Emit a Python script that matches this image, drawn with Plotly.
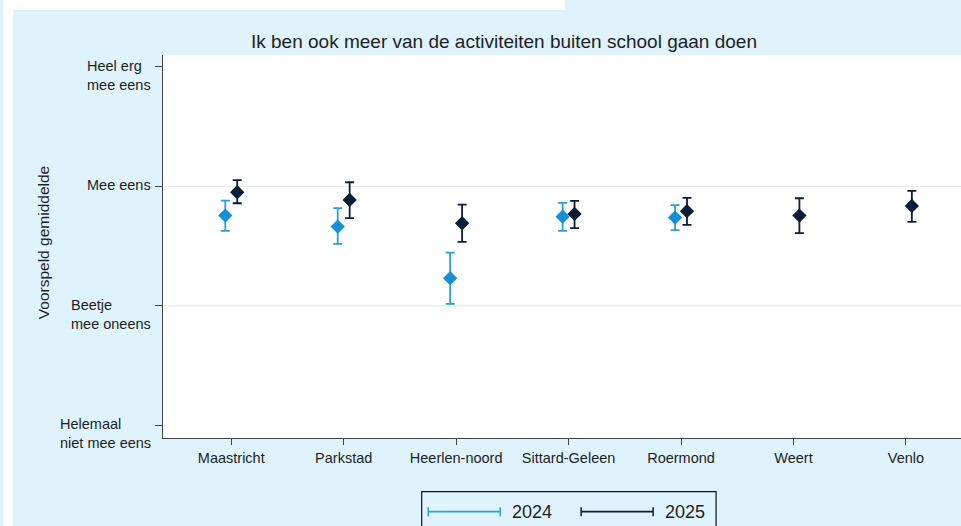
import plotly.graph_objects as go

# ---- data ----
regions = ["Maastricht", "Parkstad", "Heerlen-noord", "Sittard-Geleen", "Roermond", "Weert", "Venlo"]

mean_2024 = [2.755, 2.663, 2.232, 2.746, 2.738, None, None]
low_2024 = [2.627, 2.518, 2.017, 2.627, 2.633, None, None]
high_2024 = [2.880, 2.817, 2.446, 2.861, 2.842, None, None]

mean_2025 = [2.950, 2.886, 2.691, 2.769, 2.792, 2.755, 2.836]
low_2025 = [2.858, 2.733, 2.535, 2.650, 2.677, 2.608, 2.702]
high_2025 = [3.051, 3.034, 2.847, 2.878, 2.903, 2.900, 2.961]

ytick_vals = [1, 2, 3, 4]
ytick_text = ["Helemaal<br>niet mee eens", "Beetje<br>mee oneens", "Mee eens", "Heel erg<br>mee eens"]

title_text = "Ik ben ook meer van de activiteiten buiten school gaan doen"
ytitle_text = "Voorspeld gemiddelde"
years = ["2024", "2025"]

# ---- styling ----
C24 = "#1490d8"
C24_ERR = "#2b9fdb"
C25 = "#0b1d3b"
BG = "#dff3fc"
TXT = "#1e1e1e"
FONT = "Liberation Sans, Arial, sans-serif"
OFF = 0.053

W, H = 961, 526
L, R, T, B = 162.7, 961.0, 55.0, 438.3


def px(x):
    return (x - L) / (R - L)


def py(y):
    return (B - y) / (B - T)


def errs(mean, lo, hi):
    up = [None if m is None else h - m for m, h in zip(mean, hi)]
    dn = [None if m is None else m - l for m, l in zip(mean, lo)]
    return up, dn


x24 = [i - OFF for i in range(len(regions))]
x25 = [i + OFF for i in range(len(regions))]
u24, d24 = errs(mean_2024, low_2024, high_2024)
u25, d25 = errs(mean_2025, low_2025, high_2025)

fig = go.Figure()
fig.add_trace(go.Scatter(
    x=x24, y=mean_2024, mode="markers", name=years[0],
    marker=dict(symbol="diamond", size=11, color=C24),
    error_y=dict(type="data", symmetric=False, array=u24, arrayminus=d24,
                 color=C24_ERR, thickness=1.8, width=4.5),
    showlegend=False,
))
fig.add_trace(go.Scatter(
    x=x25, y=mean_2025, mode="markers", name=years[1],
    marker=dict(symbol="diamond", size=11, color=C25),
    error_y=dict(type="data", symmetric=False, array=u25, arrayminus=d25,
                 color=C25, thickness=1.8, width=4.5),
    showlegend=False,
))

shapes = []
# gridlines
for gv in [2, 3]:
    shapes.append(dict(type="line", xref="paper", yref="y", x0=0, x1=1, y0=gv, y1=gv,
                       line=dict(color="#e6e6e6", width=1), layer="below"))
# white strips in the background (screenshot frame)
shapes.append(dict(type="rect", xref="paper", yref="paper", x0=px(3), x1=px(12.7), y0=py(0), y1=py(530),
                   fillcolor="white", line=dict(width=0), layer="below"))
shapes.append(dict(type="rect", xref="paper", yref="paper", x0=px(3), x1=px(565), y0=py(0), y1=py(10),
                   fillcolor="white", line=dict(width=0), layer="below"))
# legend box
shapes.append(dict(type="rect", xref="paper", yref="paper", x0=px(421.5), x1=px(716), y0=py(492), y1=py(545),
                   fillcolor=BG, line=dict(color="#111111", width=1.2)))
# legend keys
for (xa, xb, col) in [(428, 500, C24_ERR), (581, 653, C25)]:
    shapes.append(dict(type="line", xref="paper", yref="paper", x0=px(xa), x1=px(xb), y0=py(512), y1=py(512),
                       line=dict(color=col, width=1.8)))
    for xc in (xa, xb):
        shapes.append(dict(type="line", xref="paper", yref="paper", x0=px(xc), x1=px(xc), y0=py(507.5), y1=py(516.5),
                           line=dict(color=col, width=1.5)))

annotations = [
    dict(text=title_text, xref="paper", yref="paper", x=px(503.7), y=py(41.5), xanchor="center", yanchor="middle",
         showarrow=False, font=dict(size=19, color=TXT, family=FONT)),
    dict(text=ytitle_text, xref="paper", yref="paper", x=px(44), y=py(243), xanchor="center", yanchor="middle",
         textangle=-90, showarrow=False, font=dict(size=15.5, color=TXT, family=FONT)),
    dict(text=years[0], xref="paper", yref="paper", x=px(510), y=py(512), xanchor="left", yanchor="middle",
         showarrow=False, font=dict(size=18, color=TXT, family=FONT)),
    dict(text=years[1], xref="paper", yref="paper", x=px(663), y=py(512), xanchor="left", yanchor="middle",
         showarrow=False, font=dict(size=18, color=TXT, family=FONT)),
]
# y tick labels: left-aligned blocks, first line level with the tick
for v, t in zip(ytick_vals, ytick_text):
    annotations.append(dict(text=t, xref="paper", yref="y", x=px(151.5), y=v, xanchor="right", yanchor="top",
                            yshift=10, align="left", showarrow=False, borderpad=0,
                            font=dict(size=14.5, color=TXT, family=FONT)))

fig.update_layout(
    width=W, height=H,
    margin=dict(l=L, r=W - R, t=T, b=H - B, pad=0),
    paper_bgcolor=BG, plot_bgcolor="white",
    font=dict(family=FONT, size=14.5, color=TXT),
    shapes=shapes, annotations=annotations,
    showlegend=False,
    xaxis=dict(range=[-0.607, 6.49], tickmode="array", tickvals=list(range(len(regions))), ticktext=regions,
               showgrid=False, zeroline=False, showline=True, linecolor="#444444", linewidth=1.3,
               ticks="outside", ticklen=6, tickcolor="#444444", tickwidth=1.2,
               tickfont=dict(size=14.5, color=TXT, family=FONT), fixedrange=True),
    yaxis=dict(range=[0.895, 4.098], tickmode="array", tickvals=ytick_vals, showticklabels=False,
               showgrid=False, zeroline=False, showline=True, linecolor="#444444", linewidth=1.3,
               ticks="outside", ticklen=7, tickcolor="#444444", tickwidth=1.2, fixedrange=True),
)

fig.write_html(
    "out.html",
    config={"displayModeBar": False},
    post_script="document.body.style.margin='0';document.body.style.overflow='hidden';",
)
